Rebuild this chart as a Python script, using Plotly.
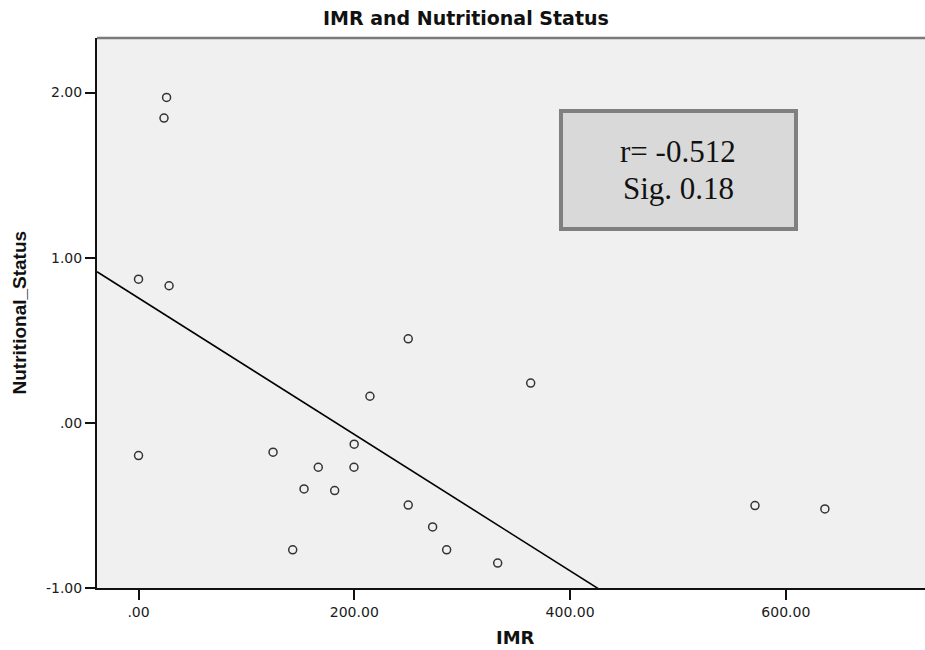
import plotly.graph_objects as go

# ---- data ----
imr = [26, 23.6, 0, 28.3, 0, 124.7, 250, 363.5, 214.5, 199.9, 166.6, 199.7,
       153.4, 181.8, 250, 272.6, 142.9, 285.6, 332.9, 571.4, 636.2]
nutritional_status = [1.97, 1.845, 0.87, 0.83, -0.198, -0.178, 0.509, 0.241, 0.161,
                      -0.129, -0.269, -0.269, -0.40, -0.41, -0.498, -0.63, -0.769,
                      -0.769, -0.849, -0.501, -0.521]

# fit line as drawn in the reference
fit_intercept = 0.756
fit_slope = -0.00413

x_tick_vals = [0, 200, 400, 600]
x_tick_text = [".00", "200.00", "400.00", "600.00"]
y_tick_vals = [-1, 0, 1, 2]
y_tick_text = ["-1.00", ".00", "1.00", "2.00"]

x_range = [-38.5, 729]
y_range = [-1, 2.33]

fit_x = [x_range[0], x_range[1]]
fit_y = [fit_intercept + fit_slope * v for v in fit_x]

fig = go.Figure()
fig.add_trace(go.Scatter(
    x=fit_x, y=fit_y, mode="lines",
    line=dict(color="black", width=1.6), hoverinfo="skip", showlegend=False))
fig.add_trace(go.Scatter(
    x=imr, y=nutritional_status, mode="markers",
    marker=dict(symbol="circle-open", size=8, color="#333333", line=dict(width=1.5)),
    showlegend=False))

tick_font = dict(family="DejaVu Sans", size=14, color="#1a1a1a")

fig.update_layout(
    width=925, height=650,
    margin=dict(l=97, r=0, t=38, b=62),
    paper_bgcolor="white",
    plot_bgcolor="#f0f0f0",
    xaxis=dict(range=x_range, tickvals=x_tick_vals, ticktext=x_tick_text,
               showgrid=False, zeroline=False, showline=True, linecolor="#111111",
               linewidth=2, ticks="outside", ticklen=10, tickwidth=1.5,
               tickcolor="#111111", tickfont=tick_font),
    yaxis=dict(range=y_range, tickvals=y_tick_vals, ticktext=y_tick_text,
               showgrid=False, zeroline=False, showline=True, linecolor="#111111",
               linewidth=2, ticks="outside", ticklen=10, tickwidth=1.5,
               tickcolor="#111111", tickfont=tick_font),
    shapes=[
        dict(type="line", xref="paper", yref="paper", x0=0, x1=1, y0=1, y1=1,
             line=dict(color="#7a7a7a", width=2.5)),
        dict(type="rect", xref="paper", yref="paper", x0=0.5604, x1=0.8442,
             y0=0.6527, y1=0.8673, line=dict(color="#808080", width=4),
             fillcolor="#d9d9d9"),
    ],
    annotations=[
        dict(text="<b>IMR and Nutritional Status</b>", xref="paper", yref="paper",
             x=0.4457, y=1.036, xanchor="center", yanchor="middle", showarrow=False,
             font=dict(family="DejaVu Sans", size=19, color="#111111")),
        dict(text="<b>IMR</b>", xref="paper", yref="paper",
             x=0.506, y=-0.0909, xanchor="center", yanchor="middle", showarrow=False,
             font=dict(family="DejaVu Sans", size=18, color="#111111")),
        dict(text="<b>Nutritional_Status</b>", xref="paper", yref="paper",
             x=-0.093, y=0.5009, xanchor="center", yanchor="middle", showarrow=False,
             textangle=-90,
             font=dict(family="Liberation Sans", size=19, color="#111111")),
        dict(text="r= -0.512", xref="paper", yref="paper",
             x=(678 - 97) / 828, y=0.7945, xanchor="center", yanchor="middle",
             showarrow=False,
             font=dict(family="Liberation Serif", size=31, color="#111111")),
        dict(text="Sig. 0.18", xref="paper", yref="paper",
             x=(678 - 97) / 828, y=0.7255, xanchor="center", yanchor="middle",
             showarrow=False,
             font=dict(family="Liberation Serif", size=31, color="#111111")),
    ],
)

fig.write_html("out.html")
